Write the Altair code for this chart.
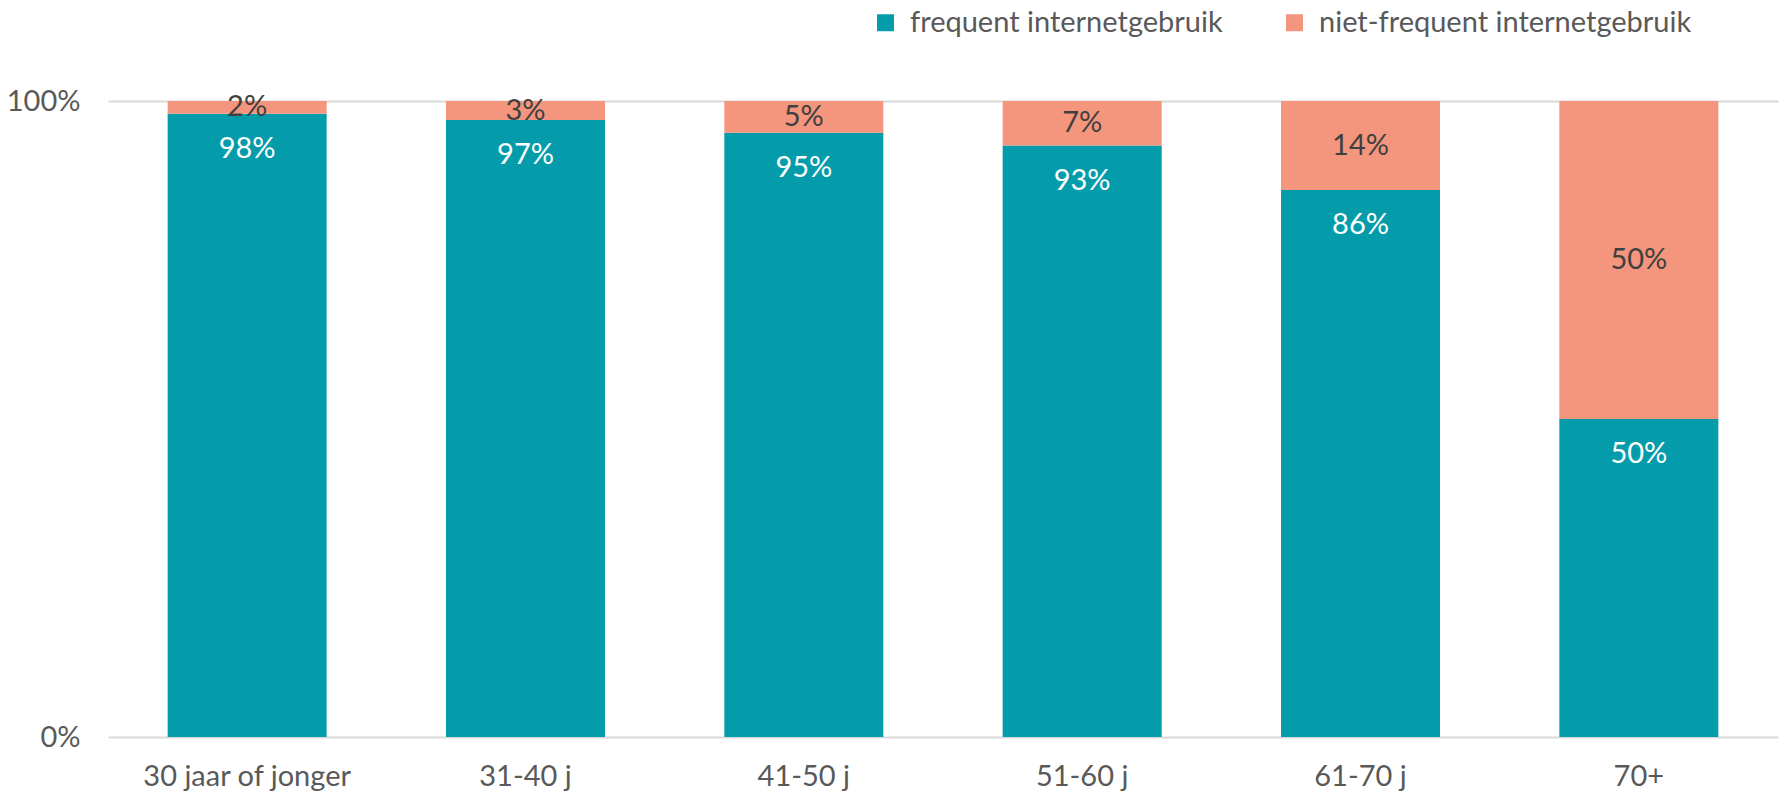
import altair as alt
import pandas as pd

categories = ["30 jaar of jonger", "31-40 j", "41-50 j", "51-60 j", "61-70 j", "70+"]
frequent = [98, 97, 95, 93, 86, 50]
niet_frequent = [2, 3, 5, 7, 14, 50]
series = ["frequent internetgebruik", "niet-frequent internetgebruik"]
colors = ["#049CAA", "#F4957D"]

rows = []
for c, f, n in zip(categories, frequent, niet_frequent):
    rows.append({"cat": c, "series": series[0], "value": f / 100, "ord": 0,
                 "label": f"{f}%", "pos": f / 100})
    rows.append({"cat": c, "series": series[1], "value": n / 100, "ord": 1,
                 "label": f"{n}%", "pos": (f + n / 2) / 100})
df = pd.DataFrame(rows)

FONT = "Lato"
FS = 29

x_enc = alt.X("cat:N", sort=categories, title=None,
              scale=alt.Scale(paddingInner=0.4287, paddingOuter=0.2143),
              axis=alt.Axis(labelAngle=0, ticks=False, domain=False, grid=False,
                            labelPadding=25, labelFontSize=FS, labelFont=FONT,
                            labelColor="#595959", labelLimit=0))

base = alt.Chart(df)

bars = base.mark_bar().encode(
    x=x_enc,
    y=alt.Y("value:Q", stack="zero", title=None,
            scale=alt.Scale(domain=[0, 1], nice=False),
            axis=alt.Axis(values=[0, 1], format=".0%", ticks=False, domain=False,
                          grid=True, gridColor="#D9D9D9", gridWidth=2,
                          labelPadding=28, labelFontSize=FS, labelFont=FONT,
                          labelColor="#595959")),
    color=alt.Color("series:N", sort=series,
                    scale=alt.Scale(domain=series, range=colors),
                    legend=alt.Legend(title=None, orient="none", direction="horizontal",
                                      legendX=763, legendY=-93, symbolType="square",
                                      symbolSize=289, symbolStrokeWidth=0,
                                      labelFontSize=FS, labelFont=FONT,
                                      labelColor="#595959", labelOffset=10,
                                      labelLimit=0, columnPadding=57, padding=0)),
    order=alt.Order("ord:Q"),
)

txt_freq = base.transform_filter(alt.datum.ord == 0).mark_text(
    dy=35, baseline="middle", fontSize=FS, font=FONT, color="#FFFFFF"
).encode(x=alt.X("cat:N", sort=categories), y=alt.Y("pos:Q"), text="label:N")

txt_niet = base.transform_filter(alt.datum.ord == 1).mark_text(
    baseline="middle", fontSize=FS, font=FONT, color="#404040"
).encode(x=alt.X("cat:N", sort=categories), y=alt.Y("pos:Q"), text="label:N")

chart = alt.layer(bars, txt_freq, txt_niet).properties(
    width=1670, height=636,
    autosize=alt.AutoSizeParams(type="none"),
    padding={"left": 108, "top": 101, "right": 7, "bottom": 56},
    background="#FFFFFF",
).configure_view(stroke=None)

chart.save("out.html", embed_options={"renderer": "svg", "actions": False})
